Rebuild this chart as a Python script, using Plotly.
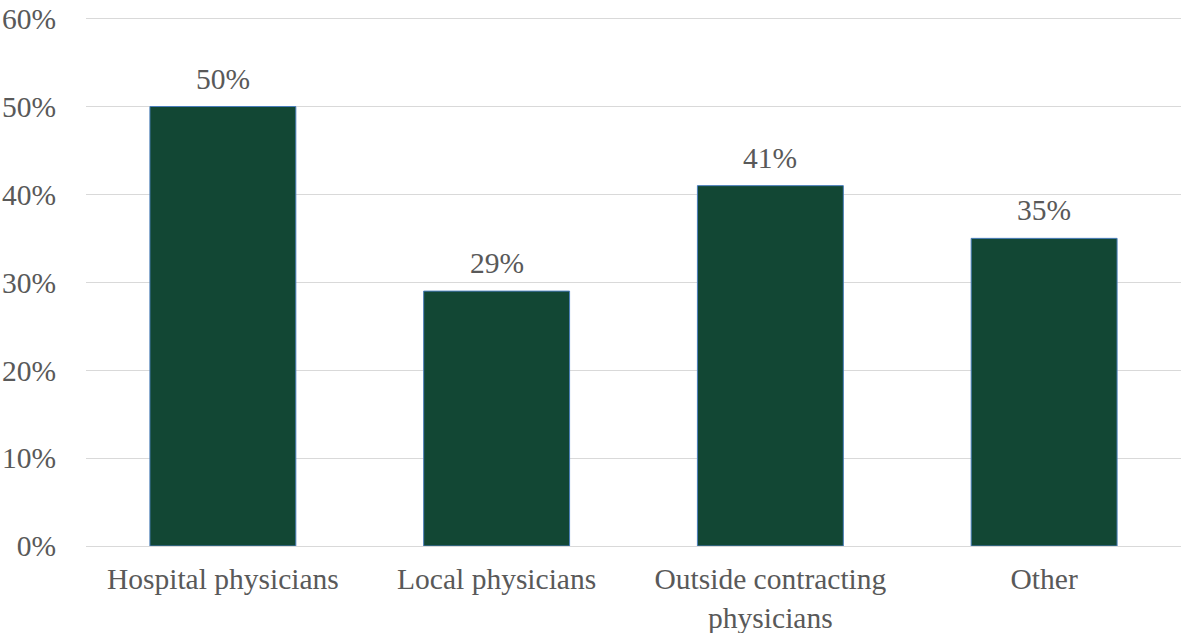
import plotly.graph_objects as go

categories = ["Hospital physicians", "Local physicians", "Outside contracting<br>physicians", "Other"]
values = [50, 29, 41, 35]
value_labels = ["50%", "29%", "41%", "35%"]
tick_vals = [0, 10, 20, 30, 40, 50, 60]
tick_text = ["0%", "10%", "20%", "30%", "40%", "50%", "60%"]

font_family = "Liberation Serif, Times New Roman, serif"
text_color = "#595959"
fs = 29.5

fig = go.Figure()
fig.add_trace(go.Bar(
    x=categories, y=values,
    marker=dict(color="#124734", line=dict(color="#4a7ebb", width=1)),
    width=0.533,
    hoverinfo="skip",
))
for c, v, t in zip(categories, values, value_labels):
    fig.add_annotation(x=c, y=v, text=t, showarrow=False, yanchor="bottom",
                       yshift=10, font=dict(family=font_family, size=fs, color=text_color))

fig.update_layout(
    width=1202, height=633,
    margin=dict(l=86, r=21, t=16, b=87),
    plot_bgcolor="white", paper_bgcolor="white",
    showlegend=False,
    font=dict(family=font_family, size=fs, color=text_color),
)
fig.update_yaxes(range=[0, 60.3], tickvals=tick_vals, ticktext=tick_text,
                 showgrid=True, gridcolor="#d9d9d9", gridwidth=1,
                 zeroline=False, showline=False, ticks="",
                 ticklabelstandoff=29, automargin=False, ticklabeloverflow="allow",
                 tickfont=dict(family=font_family, size=fs, color=text_color))
fig.update_xaxes(showline=True, linecolor="#d9d9d9", linewidth=1, ticks="",
                 ticklabelstandoff=7, automargin=False, ticklabeloverflow="allow",
                 tickfont=dict(family=font_family, size=fs, color=text_color))

fig.write_html("out.html", config={"displayModeBar": False},
               post_script="document.body.style.margin='0px';")
